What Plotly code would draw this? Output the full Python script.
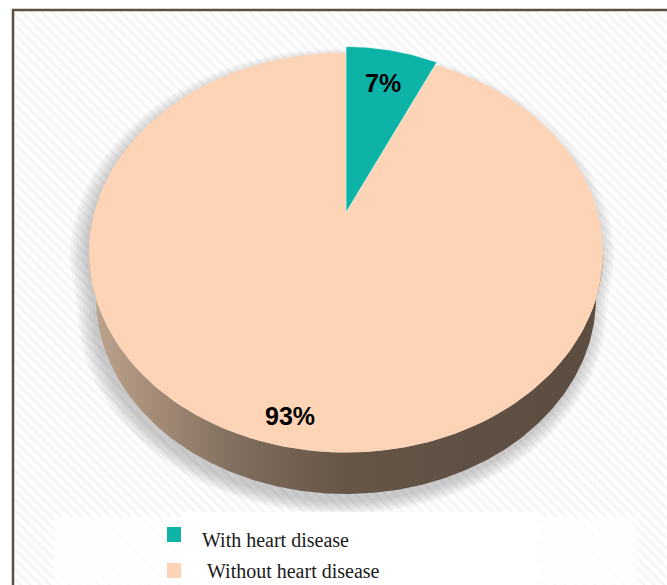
import numpy as np
import plotly.graph_objects as go

# ---- data ----
categories = ["With heart disease", "Without heart disease"]
values = [7, 93]
slice_colors = ["#0DB3A7", "#FDD5B6"]

# ---- layout constants (pixels) ----
W, H = 667, 585
CX, CY = 346, 252.5
RX, RY = 257, 200
BCY, BRX, BRY = 298, 250, 196      # bottom rim ellipse (perspective)
EXPLODE_UP = 40
EXPLODE_SCALE = 0.83


def pt(phi, cx, cy, rx, ry):
    return cx + rx * np.sin(phi), cy - ry * np.cos(phi)


def sector(phi0, phi1, cx, cy, rx, ry, n=200):
    t = np.linspace(phi0, phi1, n)
    x, y = pt(t, cx, cy, rx, ry)
    return np.r_[cx, x, cx], np.r_[cy, y, cy]


def silhouette(dx, dy, s, n=300):
    t1 = np.linspace(-np.pi / 2, np.pi / 2, n)
    x1, y1 = pt(t1, CX + dx, CY + dy, RX * s, RY * s)
    t2 = np.linspace(np.pi / 2, 3 * np.pi / 2, n)
    x2, y2 = pt(t2, CX + dx, BCY + dy, BRX * s, BRY * s)
    return np.r_[x1, x2, x1[0]], np.r_[y1, y2, y1[0]]


fig = go.Figure()

# background with diagonal hatch inside frame
fig.add_trace(go.Scatter(
    x=[13, W, W, 13, 13], y=[10, 10, H, H, 10], mode="lines", fill="toself",
    line=dict(width=0), fillcolor="white",
    fillpattern=dict(shape="\\", size=7, solidity=0.35, fgcolor="#e9e9e9", bgcolor="white"),
    hoverinfo="skip", showlegend=False))

# soft shadow
for k in range(6):
    s = 1 + 0.012 * (5 - k)
    sx, sy = silhouette(-4, 8, s)
    fig.add_trace(go.Scatter(x=sx, y=sy, mode="lines", fill="toself", line=dict(width=0),
                             fillcolor="rgba(110,110,110,0.07)", hoverinfo="skip", showlegend=False))

# side wall of the cylinder (front half)
t_top = np.linspace(np.pi / 2, 3 * np.pi / 2, 300)
xt, yt = pt(t_top, CX, CY, RX, RY)
xb, yb = pt(t_top[::-1], CX, BCY, BRX, BRY)
fig.add_trace(go.Scatter(
    x=np.r_[xt, xb, xt[0]], y=np.r_[yt, yb, yt[0]], mode="lines", fill="toself",
    line=dict(width=0),
    fillgradient=dict(type="horizontal", colorscale=[
        [0, "#bda58f"], [0.12, "#a68d78"], [0.3, "#7e6c5d"], [0.5, "#665648"],
        [0.75, "#5f5043"], [1, "#5c4d40"]]),
    hoverinfo="skip", showlegend=False))

# slices
fr = np.array(values, dtype=float) / sum(values)
edges = np.r_[0, np.cumsum(fr)] * 2 * np.pi

# main (non-exploded) slice: the 93% one
sx, sy = sector(edges[1], edges[2], CX, CY, RX, RY)
fig.add_trace(go.Scatter(x=sx, y=sy, mode="lines", fill="toself", line=dict(width=0),
                         fillcolor=slice_colors[1], hoverinfo="skip", showlegend=False))
# cut faces visible in the gap left by the exploded slice
gx, gy = sector(edges[0], edges[1], CX, CY, RX, RY)
fig.add_trace(go.Scatter(x=gx, y=gy, mode="lines", fill="toself", line=dict(width=0.5, color=slice_colors[1]),
                         fillcolor=slice_colors[1], hoverinfo="skip", showlegend=False))

# exploded slice (7%)
ecx, ecy = CX, CY - EXPLODE_UP
erx, ery = RX * EXPLODE_SCALE, RY * EXPLODE_SCALE
tx, ty = sector(edges[0], edges[1], ecx, ecy, erx, ery)
fig.add_trace(go.Scatter(x=tx, y=ty, mode="lines", fill="toself",
                         line=dict(width=1, color="rgba(255,255,255,0.6)"),
                         fillcolor=slice_colors[0], hoverinfo="skip", showlegend=False))

# percentage labels
lbl_font = dict(family="Liberation Sans, Arial", size=25, color="black")
mid0 = (edges[0] + edges[1]) / 2
lx, ly = pt(mid0, ecx, ecy, erx * 0.8, ery * 0.8)
fig.add_annotation(x=lx, y=ly, text=f"<b>{values[0]}%</b>", showarrow=False, font=lbl_font)
mid1 = (edges[1] + edges[2]) / 2
lx, ly = pt(mid1, CX, CY, RX * 0.86, RY * 0.84)
fig.add_annotation(x=lx, y=ly, text=f"<b>{values[1]}%</b>", showarrow=False, font=lbl_font,
                   xshift=-8)

# legend area
shapes = [
    dict(type="rect", x0=54, x1=637, y0=517, y1=H, fillcolor="rgba(255,255,255,0.65)",
         line=dict(width=0), layer="above"),
    dict(type="rect", x0=181, x1=540, y0=512, y1=H, fillcolor="white",
         line=dict(width=0), layer="above"),
    # frame
    dict(type="line", x0=13, x1=13, y0=9, y1=H, line=dict(color="#5d4f42", width=2.5), layer="above"),
    dict(type="line", x0=12, x1=W, y0=10, y1=10, line=dict(color="#5d4f42", width=2.5), layer="above"),
]
fig.update_layout(shapes=shapes)

leg_y = [534.5, 570.5]
leg_text_y = [539.5, 571]
leg_xshift = [0, 5]
for i, cat in enumerate(categories):
    fig.add_shape(type="rect", x0=167, x1=181, y0=leg_y[i] - 7.5, y1=leg_y[i] + 7.5,
                  fillcolor=slice_colors[i], line=dict(width=0), layer="above")
    fig.add_annotation(x=200, y=leg_text_y[i], text=cat, showarrow=False, xanchor="left",
                       xshift=leg_xshift[i],
                       font=dict(family="Liberation Serif, Times New Roman", size=20, color="#1a1a1a"))

fig.update_layout(
    width=W, height=H, autosize=False,
    margin=dict(l=0, r=0, t=0, b=0),
    paper_bgcolor="white", plot_bgcolor="white",
    xaxis=dict(range=[0, W], visible=False, fixedrange=True),
    yaxis=dict(range=[H, 0], visible=False, fixedrange=True),
    showlegend=False,
)

fig.write_html("out.html")
